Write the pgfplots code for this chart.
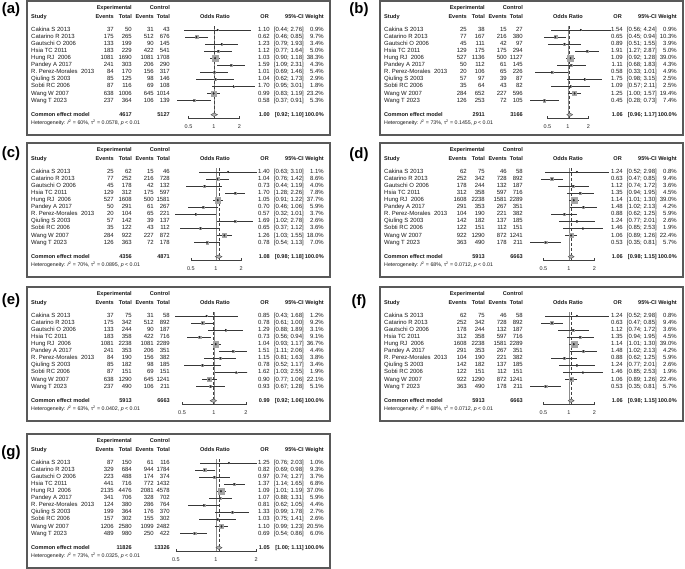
\documentclass[border=0pt]{standalone}
\usepackage{pgfplots}
\usepackage{pgfplotstable}
\pgfplotsset{compat=1.18}
\usepackage{fontspec}
\setmainfont{Liberation Sans}

\pgfplotstableread[col sep=comma,row sep=\\]{
ee,et,ce,ct,or,lo,hi,w\\
37,50,31,43,1.10,0.44,2.76,0.9\\
175,265,512,676,0.62,0.46,0.85,9.7\\
133,199,90,145,1.23,0.79,1.93,3.4\\
183,229,422,541,1.12,0.77,1.64,5.0\\
1081,1690,1081,1708,1.03,0.90,1.18,38.3\\
241,303,206,290,1.59,1.09,2.31,4.3\\
84,170,156,317,1.01,0.69,1.46,5.4\\
85,125,98,146,1.04,0.62,1.73,2.9\\
87,116,69,108,1.70,0.95,3.01,1.8\\
638,1006,645,1014,0.99,0.83,1.19,23.2\\
237,364,106,139,0.58,0.37,0.91,5.3\\
}\tabA

\pgfplotstableread[col sep=comma,row sep=\\]{
ee,et,ce,ct,or,lo,hi,w\\
25,38,15,27,1.54,0.56,4.24,0.9\\
77,167,216,380,0.65,0.45,0.94,10.3\\
45,111,42,97,0.89,0.51,1.55,3.9\\
129,175,175,294,1.91,1.27,2.87,5.0\\
527,1136,500,1127,1.09,0.92,1.28,39.0\\
50,112,61,145,1.11,0.68,1.83,4.3\\
20,106,65,226,0.58,0.33,1.01,4.9\\
57,97,39,87,1.75,0.98,3.15,2.5\\
35,64,43,82,1.09,0.57,2.11,2.5\\
284,652,227,596,1.25,1.00,1.57,19.4\\
126,253,72,105,0.45,0.28,0.73,7.4\\
}\tabB

\pgfplotstableread[col sep=comma,row sep=\\]{
ee,et,ce,ct,or,lo,hi,w\\
25,62,15,46,1.40,0.63,3.10,1.1\\
77,252,216,728,1.04,0.76,1.42,8.6\\
45,178,42,132,0.73,0.44,1.19,4.0\\
129,312,175,597,1.70,1.28,2.26,7.8\\
527,1608,500,1581,1.05,0.91,1.22,37.7\\
50,291,61,267,0.70,0.46,1.06,5.9\\
20,104,65,221,0.57,0.32,1.01,3.7\\
57,142,39,137,1.69,1.02,2.78,2.6\\
35,122,43,112,0.65,0.37,1.12,3.6\\
284,922,227,872,1.26,1.03,1.55,18.0\\
126,363,72,178,0.78,0.54,1.13,7.0\\
}\tabC

\pgfplotstableread[col sep=comma,row sep=\\]{
ee,et,ce,ct,or,lo,hi,w\\
62,75,46,58,1.24,0.52,2.98,0.8\\
252,342,728,892,0.63,0.47,0.85,9.4\\
178,244,132,187,1.12,0.74,1.72,3.6\\
312,358,597,716,1.35,0.94,1.95,4.5\\
1608,2238,1581,2289,1.14,1.01,1.30,39.0\\
291,353,267,351,1.48,1.02,2.13,4.2\\
104,190,221,382,0.88,0.62,1.25,5.9\\
142,182,137,185,1.24,0.77,2.01,2.6\\
122,151,112,151,1.46,0.85,2.53,1.9\\
922,1290,872,1241,1.06,0.89,1.26,22.4\\
363,490,178,211,0.53,0.35,0.81,5.7\\
}\tabD

\pgfplotstableread[col sep=comma,row sep=\\]{
ee,et,ce,ct,or,lo,hi,w\\
37,75,31,58,0.85,0.43,1.68,1.2\\
175,342,512,892,0.78,0.61,1.00,9.2\\
133,244,90,187,1.29,0.88,1.89,3.1\\
183,358,422,716,0.73,0.56,0.94,9.1\\
1081,2238,1081,2289,1.04,0.93,1.17,36.7\\
241,353,206,351,1.51,1.11,2.06,4.4\\
84,190,156,382,1.15,0.81,1.63,3.8\\
85,182,98,185,0.78,0.52,1.17,3.4\\
87,151,69,151,1.62,1.03,2.55,1.9\\
638,1290,645,1241,0.90,0.77,1.06,22.1\\
237,490,106,211,0.93,0.67,1.28,5.1\\
}\tabE

\pgfplotstableread[col sep=comma,row sep=\\]{
ee,et,ce,ct,or,lo,hi,w\\
87,150,61,116,1.25,0.76,2.03,1.0\\
329,684,944,1784,0.82,0.69,0.98,9.3\\
223,488,174,374,0.97,0.74,1.27,3.7\\
441,716,772,1432,1.37,1.14,1.65,6.8\\
2135,4476,2081,4578,1.09,1.01,1.19,37.0\\
341,706,328,702,1.07,0.88,1.31,5.9\\
124,380,286,764,0.81,0.62,1.05,4.4\\
199,364,176,370,1.33,0.99,1.78,2.7\\
157,302,155,302,1.03,0.75,1.41,2.6\\
1206,2580,1099,2482,1.10,0.99,1.23,20.5\\
489,980,250,422,0.69,0.54,0.86,6.0\\
}\tabG

\newcommand\studies{Cakina S 2013,Catarino R 2013,Gautschi O 2006,Hsia TC 2011,Hung RJ~ 2006,Pandey A 2017,R. Perez-Morales~ 2013,Qiuling S 2003,Sobti RC 2006,Wang W 2007,Wang T 2023}

\tikzset{
  tx/.style={font=\fontsize{6}{7}\selectfont, inner sep=0pt, text height=4.3bp, text depth=1.2bp, text=black!90},
  hd/.style={tx, font=\fontsize{5.6}{7}\selectfont\bfseries},
  sm/.style={font=\fontsize{5.3}{6}\selectfont, inner sep=0pt, text height=3.8bp, text depth=1bp, text=black!90},
}

% #1 PX, #2 PY, #3 label, #4 label x, #5 label y, #6 table, #7 xmin, #8 xmax, #9 right edge of plot region
\newcommand\drawpanel[9]{%
  \begin{scope}[x=1bp,y=1bp]
  \draw[line width=1.3bp, black!65] (#1,-#2) rectangle ++(303,-134);
  \node[font=\fontsize{15}{15}\selectfont\bfseries, inner sep=0pt] at (#4,-#5) {(#3)};
  \node[hd, anchor=east] at (#1+105,-#2-7) {Experimental};
  \node[hd, anchor=east] at (#1+143,-#2-7) {Control};
  \node[hd, anchor=west] at (#1+4,-#2-15.5) {Study};
  \node[hd, anchor=east] at (#1+87,-#2-15.5) {Events};
  \node[hd, anchor=east] at (#1+105,-#2-15.5) {Total};
  \node[hd, anchor=east] at (#1+127,-#2-15.5) {Events};
  \node[hd, anchor=east] at (#1+143,-#2-15.5) {Total};
  \node[hd] at (#1+188,-#2-15.5) {Odds Ratio};
  \node[hd, anchor=east] at (#1+242,-#2-15.5) {OR};
  \node[hd, anchor=east] at (#1+277,-#2-15.5) {95\%-CI};
  \node[hd, anchor=east] at (#1+297,-#2-15.5) {Weight};
  \foreach \s [count=\i from 0] in \studies {
    \pgfmathsetmacro\yy{-#2-29-7.05*\i}
    \node[tx, anchor=west] at (#1+4,\yy) {\s};
    \pgfplotstablegetelem{\i}{ee}\of#6
    \node[tx, anchor=east] at (#1+87,\yy) {\pgfplotsretval};
    \pgfplotstablegetelem{\i}{et}\of#6
    \node[tx, anchor=east] at (#1+105,\yy) {\pgfplotsretval};
    \pgfplotstablegetelem{\i}{ce}\of#6
    \node[tx, anchor=east] at (#1+127,\yy) {\pgfplotsretval};
    \pgfplotstablegetelem{\i}{ct}\of#6
    \node[tx, anchor=east] at (#1+143,\yy) {\pgfplotsretval};
    \pgfplotstablegetelem{\i}{or}\of#6
    \node[tx, anchor=east] at (#1+243,\yy) {\pgfplotsretval};
    \pgfplotstablegetelem{\i}{lo}\of#6 \let\cilo\pgfplotsretval
    \pgfplotstablegetelem{\i}{hi}\of#6 \let\cihi\pgfplotsretval
    \node[tx, anchor=east] at (#1+277,\yy) {[\cilo; \cihi]};
    \pgfplotstablegetelem{\i}{w}\of#6
    \node[tx, anchor=east] at (#1+297,\yy) {\pgfplotsretval\%};
  }
  \node[hd, anchor=west] at (#1+4,-#2-113.7) {Common effect model};
  \node[hd, anchor=east] at (#1+105,-#2-113.7) {\tE};
  \node[hd, anchor=east] at (#1+143,-#2-113.7) {\tC};
  \node[hd, anchor=east] at (#1+243,-#2-113.7) {\pOR};
  \node[hd, anchor=east] at (#1+277,-#2-113.7) {[\pLo; \pHi]};
  \node[hd, anchor=east] at (#1+297,-#2-113.7) {100.0\%};
  \node[sm, anchor=west] at (#1+4,-#2-121.7) {Heterogeneity: \textit{I}\textsuperscript{2} = \hI\%, τ\textsuperscript{2} = \hT, \textit{p} < 0.01};
  \end{scope}
  \pgfmathsetmacro\pw{#9-146}
  \pgfmathsetmacro\ax{#1+146}
  \pgfmathsetmacro\ay{-#2-117.5}
  \pgfmathsetmacro\lmin{ln(#7)}
  \pgfmathsetmacro\lmax{ln(#8)}
  \pgfmathsetmacro\lp{ln(\pOR)}
  \pgfmathsetmacro\llo{ln(\pLo)}
  \pgfmathsetmacro\lhi{ln(\pHi)}
  \begin{axis}[
    at={(\ax bp,\ay bp)}, anchor=south west,
    scale only axis, width=\pw bp, height=92.5bp,
    xmin=\lmin, xmax=\lmax, ymin=-117.5, ymax=-25,
    axis line style={draw=none},
    ytick=\empty,
    xtick={-0.693147,0,0.693147}, xticklabels={0.5,1,2},
    xtick pos=lower, xtick align=inside,
    major tick length=2.5bp,
    tick style={black!75, line width=0.5bp},
    xticklabel style={font=\fontsize{5.5}{6}\selectfont, text=black!85, inner sep=0pt, text height=4bp, yshift=-6bp},
  ]
    \addplot[black!45, line width=0.55bp] coordinates {(0,-25) (0,-117)};
    \addplot[densely dashed, black!75, line width=0.5bp] coordinates {(\lp,-25) (\lp,-117)};
    \addplot[scatter, only marks, mark=square*, mark options={fill=black!35, draw=black!35},
      visualization depends on={\thisrow{w} \as \wt},
      scatter/@pre marker code/.code={\pgfmathsetmacro\ms{0.47*sqrt(\wt)}\scope[mark size=\ms pt]},
      scatter/@post marker code/.code={\endscope}]
      table[x expr={ln(\thisrow{or})}, y expr={-29-7.05*\coordindex}] {#6};
    \addplot[only marks, mark=diamond*, mark size=0.9bp, mark options={fill=black!85, draw=black!85},
      error bars/.cd, x dir=both, x explicit, error mark=none,
      error bar style={line width=0.65bp, black!78}]
      table[x expr={ln(\thisrow{or})}, y expr={-29-7.05*\coordindex},
        x error plus expr={ln(\thisrow{hi})-ln(\thisrow{or})},
        x error minus expr={ln(\thisrow{or})-ln(\thisrow{lo})}] {#6};
    \addplot[fill=black!30, draw=black!70, line width=0.4bp]
      coordinates {(\llo,-113.7) (\lp,-111.9) (\lhi,-113.7) (\lp,-115.5)} -- cycle;
    \addplot[black!75, line width=0.55bp] coordinates {(-0.693147,-117) (0.693147,-117)};
  \end{axis}
}

\begin{document}
\begin{tikzpicture}
\useasboundingbox (0bp,0bp) rectangle (685bp,-569bp);

\def\pOR{1.00}\def\pLo{0.92}\def\pHi{1.10}\def\tE{4617}\def\tC{5127}\def\hI{60}\def\hT{0.0578}
\drawpanel{27}{1}{a}{11}{10}{\tabA}{0.328}{3.40}{232}

\def\pOR{1.06}\def\pLo{0.96}\def\pHi{1.17}\def\tE{2911}\def\tC{3166}\def\hI{73}\def\hT{0.1455}
\drawpanel{380}{1}{b}{359}{10}{\tabB}{0.242}{4.43}{232}

\def\pOR{1.08}\def\pLo{0.98}\def\pHi{1.18}\def\tE{4356}\def\tC{4871}\def\hI{70}\def\hT{0.0895}
\drawpanel{27}{143}{c}{11}{154}{\tabC}{0.304}{3.29}{232}

\def\pOR{1.06}\def\pLo{0.98}\def\pHi{1.15}\def\tE{5913}\def\tC{6663}\def\hI{68}\def\hT{0.0712}
\drawpanel{380}{143}{d}{359}{155}{\tabD}{0.311}{3.22}{232}

\def\pOR{0.99}\def\pLo{0.92}\def\pHi{1.06}\def\tE{5913}\def\tC{6663}\def\hI{63}\def\hT{0.0402}
\drawpanel{27}{287}{e}{11}{301}{\tabE}{0.411}{2.05}{220}

\def\pOR{1.06}\def\pLo{0.98}\def\pHi{1.15}\def\tE{5913}\def\tC{6663}\def\hI{68}\def\hT{0.0712}
\drawpanel{380}{287}{f}{359}{302}{\tabD}{0.311}{3.22}{232}

\def\pOR{1.05}\def\pLo{1.00}\def\pHi{1.11}\def\tE{11826}\def\tC{13326}\def\hI{73}\def\hT{0.0325}
\drawpanel{27}{434}{g}{11}{453}{\tabG}{0.475}{2.106}{232}
\end{tikzpicture}
\end{document}
